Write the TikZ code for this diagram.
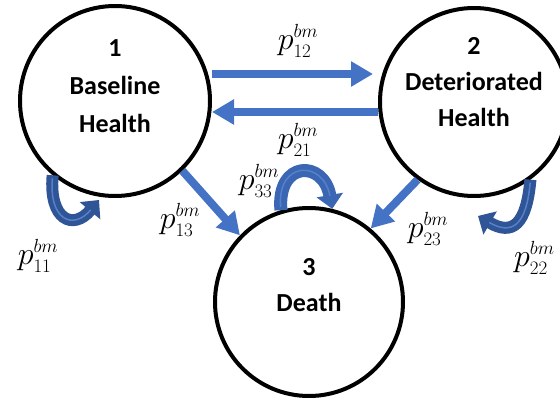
\RequirePackage{fix-cm}
\documentclass[tikz,border=0pt]{standalone}
\usepackage{fontspec}
\setsansfont{Carlito}
\usepackage{tikz}
\usetikzlibrary{arrows.meta,positioning,calc}

\definecolor{arrowblue}{RGB}{68,114,196}
\definecolor{loopblue}{RGB}{47,85,151}
\definecolor{loophi}{RGB}{86,128,200}
\definecolor{archblue}{RGB}{59,102,179}
\DeclareMathSizes{32}{32}{19}{14}

\tikzset{
  state/.style={circle,draw=black,line width=4pt,minimum size=188pt,inner sep=0pt},
  statetext/.style={align=center,font=\sffamily\bfseries\fontsize{26}{36}\selectfont},
  trans/.style={draw=arrowblue,line width=8pt,-{Triangle[width=24pt,length=22pt]}},
  selfloop/.style={draw=loopblue,line width=12pt,-{Triangle[width=26pt,length=14pt]},
    postaction={draw=loophi,line width=1.5pt,-,shorten >=13pt,shorten <=3pt}},
  prob/.style={inner sep=0pt,font=\fontsize{32}{36}\selectfont},
}

\begin{document}
\begin{tikzpicture}[x=1pt,y=1pt]
    \useasboundingbox (0,0) rectangle (560,-398);

    % three health states
    \node[state,minimum size=190pt] (s1) at (115,-101) {};
    \node[state] (s2) at (474,-102) {};
    \node[state] (s3) at (309,-302) {};

    \node[statetext,font=\sffamily\bfseries\fontsize{26}{38}\selectfont] (t1) at ([yshift=15pt]s1.center) {1\\Baseline\\Health};
    \node[statetext] (t2) at ([yshift=20pt]s2.center) {2\\Deteriorated\\Health};
    \node[statetext] (t3) at ([yshift=17pt]s3.center) {3\\Death};

    % transitions between states
    \draw[trans] ([yshift=27pt]s1.east) -- ([yshift=28pt,xshift=-5pt]s2.west);
    \draw[trans] ([yshift=-10pt]s2.west) -- ([yshift=-11pt]s1.east);
    \draw[trans] (s1.-46) -- (s3.136);
    \draw[trans] (s2.-126) -- (s3.50);

    % staying in the same state
    \coordinate (e11) at (99,-200);
    \coordinate (e22) at (478,-216);
    \draw[selfloop] (s1.-130) .. controls +(-95:45) and +(230:40) .. (e11);
    \draw[selfloop] (s2.-54) .. controls +(-95:45) and +(-30:40) .. (e22);
    \draw[selfloop,draw=archblue,line width=13pt,postaction={draw=none}] (s3.107) .. controls +(95:50) and +(100:50) .. (s3.76);

    \node[prob] (p12) at (298,-41) {$p_{12}^{bm}$};
    \node[prob] (p21) at (298,-140) {$p_{21}^{bm}$};
    \node[prob] (p13) at (180,-220) {$p_{13}^{bm}$};
    \node[prob] (p23) at (428,-229) {$p_{23}^{bm}$};
    \node[prob] (p33) at (259,-181) {$p_{33}^{bm}$};
    \node[prob] (p11) at (38,-256) {$p_{11}^{bm}$};
    \node[prob,anchor=west] (p22) at (514,-258) {$p_{22}^{bm}$};
\end{tikzpicture}
\end{document}
